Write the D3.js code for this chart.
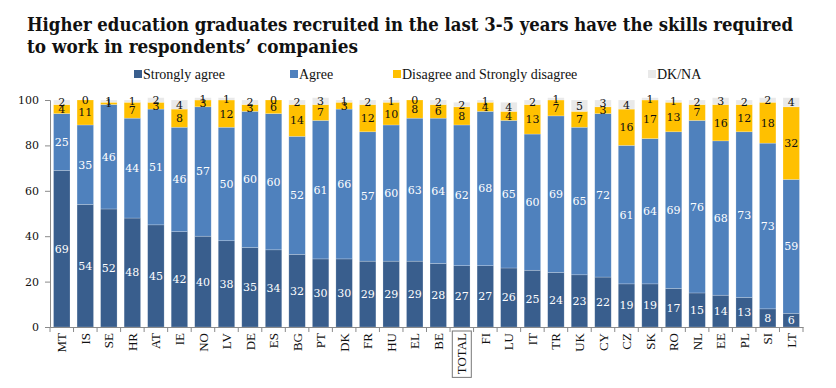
<!DOCTYPE html>
<html>
<head>
<meta charset="utf-8">
<script src="https://cdn.jsdelivr.net/npm/d3@7"></script>
<style>
  body { margin: 0; background: #fff; }
  svg { display: block; }
</style>
</head>
<body>
<div id="chart-container"></div>
<script>
const width = 836;
const height = 388;

// Countries, sorted by "Strongly agree"
const countries = ["MT", "IS", "SE", "HR", "AT", "IE", "NO", "LV", "DE", "ES", "BG", "PT", "DK", "FR", "HU", "EL",
    "BE", "TOTAL", "FI", "LU", "IT", "TR", "UK", "CY", "CZ", "SK", "RO", "NL", "EE", "PL", "SI", "LT"];
const stronglyAgree = [69, 54, 52, 48, 45, 42, 40, 38, 35, 34, 32, 30, 30, 29, 29, 29, 28, 27, 27, 26, 25, 24, 23, 22, 19, 19, 17, 15, 14, 13, 8, 6];
const agree = [25, 35, 46, 44, 51, 46, 57, 50, 60, 60, 52, 61, 66, 57, 60, 63, 64, 62, 68, 65, 60, 69, 65, 72, 61, 64, 69, 76, 68, 73, 73, 59];
const disagree = [4, 11, 1, 7, 3, 8, 3, 12, 3, 6, 14, 7, 3, 12, 10, 8, 6, 8, 4, 4, 13, 7, 7, 3, 16, 17, 13, 7, 16, 12, 18, 32];
const dkna = [2, 0, 1, 1, 2, 4, 1, 1, 2, 0, 2, 3, 1, 2, 1, 0, 2, 2, 1, 4, 2, 1, 5, 3, 4, 1, 1, 2, 3, 2, 2, 4];
const seriesNames = ["Strongly agree", "Agree", "Disagree and Strongly disagree", "DK/NA"];
const seriesColors = ["#395e8d", "#4f81bd", "#ffc000", "#e9e9e9"];
const labelColors = ["#fff", "#fff", "#111", "#111"];
const yTicks = [0, 20, 40, 60, 80, 100];

const title = ["Higher education graduates recruited in the last 3-5 years have the skills required",
    "to work in respondents\u2019 companies"];

const serif = "'DejaVu Serif', Georgia, serif";
const times = "'Liberation Serif', 'Times New Roman', serif";

const table = countries.map((c, i) => ({
    country: c, 0: stronglyAgree[i], 1: agree[i], 2: disagree[i], 3: dkna[i]
}));

const stack = d3.stack().keys([0, 1, 2, 3]);
const layers = stack(table);

const x = d3.scaleBand(countries, [50, 803]).paddingInner(0.3).paddingOuter(0.15);
const y = d3.scaleLinear([0, 100], [327, 100]);

const svg = d3.select("#chart-container")
    .append("svg")
    .attr("viewBox", [0, 0, width, height])
    .attr("width", width)
    .attr("height", height);

// title
svg.append("g")
    .selectAll("text")
    .data(title)
    .join("text")
    .attr("x", 27)
    .attr("y", (d, i) => 31 + i * 22)
    .attr("font-family", serif)
    .attr("font-weight", "bold")
    .attr("font-size", 18)
    .attr("fill", "#111")
    .attr("textLength", (d, i) => i === 0 ? 766 : 331)
    .attr("lengthAdjust", "spacingAndGlyphs")
    .text(d => d);

// legend
const legendX = [134, 290, 393, 648];
const legend = svg.append("g")
    .selectAll("g")
    .data(seriesNames)
    .join("g")
    .attr("transform", (d, i) => `translate(${legendX[i]},74)`);
legend.append("rect")
    .attr("x", 0).attr("y", -4)
    .attr("width", 8).attr("height", 8)
    .attr("fill", (d, i) => seriesColors[i]);
legend.append("text")
    .attr("x", 9).attr("y", 5)
    .attr("font-family", times)
    .attr("font-size", 14)
    .attr("fill", "#111")
    .text(d => d);

// bars
const groups = svg.append("g")
    .selectAll("g")
    .data(layers)
    .join("g")
    .attr("fill", (d, i) => seriesColors[i]);

groups.selectAll("rect")
    .data(d => d)
    .join("rect")
    .attr("x", d => x(d.data.country))
    .attr("width", x.bandwidth())
    .attr("y", d => y(d[1]))
    .attr("height", d => y(d[0]) - y(d[1]))
    .attr("stroke", "rgba(255,255,255,0.35)")
    .attr("stroke-width", 0.6);

// value labels
svg.append("g")
    .selectAll("g")
    .data(layers)
    .join("g")
    .attr("fill", (d, i) => labelColors[i])
    .selectAll("text")
    .data(d => d.map(v => ({ v, key: d.key })))
    .join("text")
    .attr("x", d => x(d.v.data.country) + x.bandwidth() / 2)
    .attr("y", d => y((d.v[0] + d.v[1]) / 2))
    .attr("dy", "0.36em")
    .attr("text-anchor", "middle")
    .attr("font-family", serif)
    .attr("font-size", 11)
    .text(d => d.v.data[d.key]);

// y axis
const yAxis = svg.append("g")
    .attr("transform", "translate(50,0)")
    .call(d3.axisLeft(y).tickValues(yTicks).tickSize(5).tickPadding(6));
yAxis.selectAll("text")
    .attr("font-family", serif)
    .attr("font-size", 11)
    .attr("fill", "#111");
yAxis.selectAll("line, path").attr("stroke", "#8a8a8a");

// x axis
const xAxis = svg.append("g")
    .attr("transform", "translate(0,327)")
    .call(d3.axisBottom(x).tickSize(0).tickPadding(0));
xAxis.select(".domain").attr("stroke", "#8a8a8a");
xAxis.selectAll("text")
    .attr("transform", "rotate(-90)")
    .attr("x", -6)
    .attr("y", 0)
    .attr("dy", "0.35em")
    .attr("text-anchor", "end")
    .attr("font-family", times)
    .attr("font-size", 13)
    .attr("fill", "#111");

// tick marks between categories
const step = x.step();
xAxis.append("g")
    .selectAll("line")
    .data(countries.concat(["end"]))
    .join("line")
    .attr("x1", (d, i) => i < countries.length ? x(d) - (step - x.bandwidth()) / 2 : 803)
    .attr("x2", (d, i) => i < countries.length ? x(d) - (step - x.bandwidth()) / 2 : 803)
    .attr("y1", 0)
    .attr("y2", 5)
    .attr("stroke", "#8a8a8a");

// box round TOTAL
const totalTick = xAxis.selectAll(".tick").filter(d => d === "TOTAL");
const tb = totalTick.select("text").node().getBBox();
totalTick.insert("rect", "text")
    .attr("x", -tb.height / 2 - 2)
    .attr("y", 4)
    .attr("width", tb.height + 4)
    .attr("height", tb.width + 5)
    .attr("fill", "none")
    .attr("stroke", "#777");
</script>
</body>
</html>
